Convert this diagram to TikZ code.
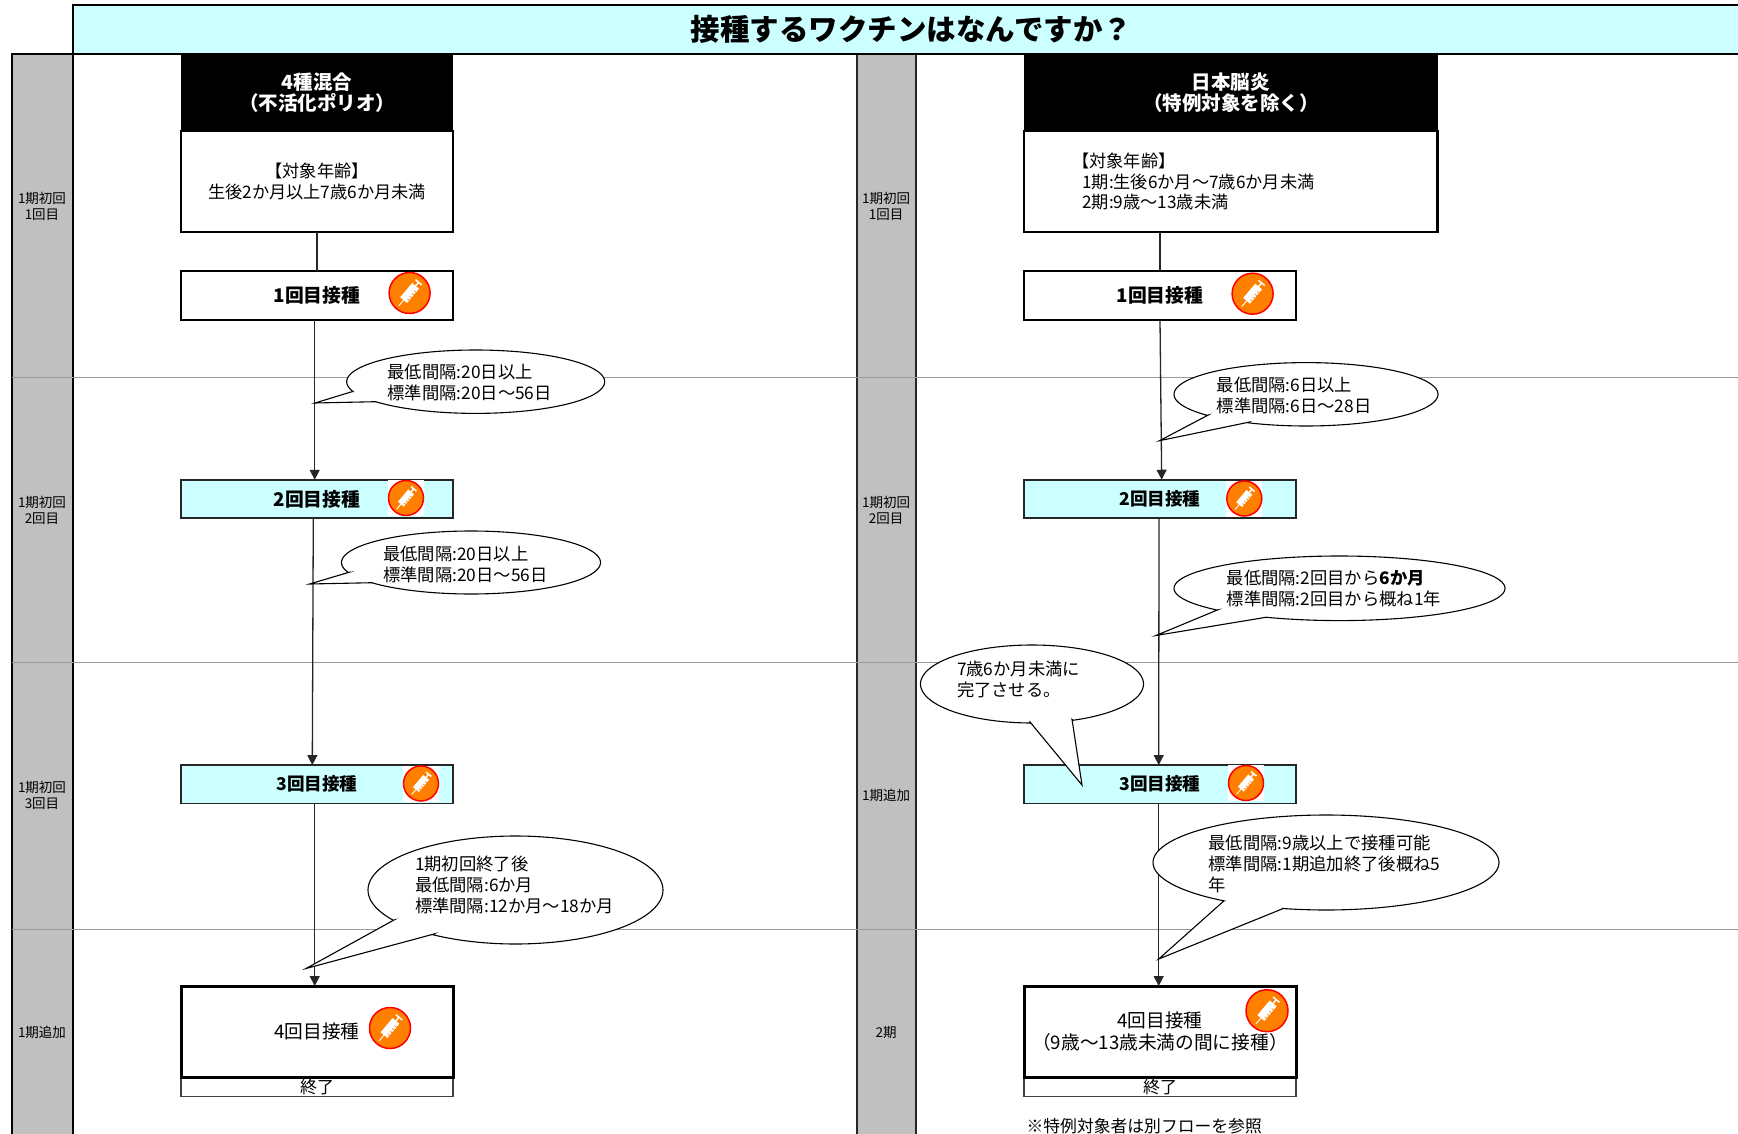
\documentclass[tikz,border=0pt]{standalone}
\usepackage{fontspec}
\setmainfont{Noto Sans CJK JP}
\usetikzlibrary{arrows.meta,calc}
\definecolor{cyanb}{HTML}{CCFFFF}
\definecolor{lane}{HTML}{C0C0C0}
\definecolor{inj}{HTML}{FF8000}
\newcommand{\callout}[9]{%
  \pgfmathsetmacro\cta{atan2((#6-#2)/#4,(#5-#1)/#3)}%
  \pgfmathsetmacro\ctb{atan2((#8-#2)/#4,(#7-#1)/#3)+360}%
  \draw[cobub] (#7,#8) -- (#9) -- (#5,#6) -- plot[domain=\cta:\ctb,samples=140] ({#1+#3*cos(\x)},{#2+#4*sin(\x)}) -- cycle;}
\newcommand{\inject}[3]{%
  \fill[white] (#1-#3,#2-#3) rectangle (#1+#3,#2+#3);
  \begin{scope}[shift={(#1,#2)}]
    \draw[draw=red,fill=inj,line width=1.5pt] (0,0) ellipse [x radius=#3-0.5,y radius=#3-0.5];
    \begin{scope}[rotate=50,scale=#3/18]
      \fill[white] (-8,-3.8) rectangle (8,3.8);
      \draw[white,line width=1.5pt] (8,0) -- (12,0) (12,-3.5) -- (12,3.5);
      \draw[white,line width=0.9pt] (-8,0) -- (-14.5,0);
      \draw[inj,line width=0.7pt] (-5,3.8) -- (-5,1.8) (-2,3.8) -- (-2,1.8) (1,3.8) -- (1,1.8) (4,3.8) -- (4,1.8);
    \end{scope}
  \end{scope}}
\tikzset{
  every node/.style={inner sep=0pt,outer sep=0pt},
  std/.style={font=\fontsize{17.2}{20.5}\selectfont,align=center},
  sml/.style={font=\fontsize{13.5}{16}\selectfont,align=center},
  bld/.style={font=\fontsize{18.8}{22}\selectfont\bfseries,align=center},
  bldn/.style={font=\fontsize{17.6}{22}\selectfont\bfseries,align=center},
  colabel/.style={font=\fontsize{17.3}{21}\selectfont,align=left,anchor=west},
  hdr/.style={fill=black,text=white,font=\fontsize{19.5}{20.5}\selectfont\bfseries,align=center,minimum height=77},
  tgt/.style={draw=black,fill=white,line width=2.5pt,std,minimum height=101},
  thick box/.style={draw=black,fill=white,line width=2.5pt,minimum width=272,minimum height=49,bld},
  cy box/.style={draw=black!85,fill=cyanb,line width=1.6pt,minimum width=272,minimum height=38.5,bld},
  big box/.style={draw=black,fill=white,line width=3pt,minimum width=272,minimum height=91,font=\fontsize{18.7}{21.5}\selectfont,align=center},
  end box/.style={draw=black!75,fill=white,line width=1.4pt,minimum width=272,minimum height=19.5,font=\fontsize{17}{18}\selectfont},
  conn/.style={draw=black!85,line width=1.3pt},
  arr/.style={conn,-{Triangle[length=10pt,width=10pt]}},
  cobub/.style={draw=black,fill=white,line width=1.1pt,line join=miter},
}
\begin{document}
\begin{tikzpicture}[x=1pt,y=-1pt]
\useasboundingbox (0,0) rectangle (1738,1134);
\fill[white] (0,0) rectangle (1738,1134);
% lanes and title
\draw[fill=lane,draw=black,line width=2.6pt] (12,54) rectangle (73,1145);
\draw[fill=lane,draw=black!85,line width=1.8pt] (857,54) rectangle (916,1145);
\draw[gray!80,line width=1pt] (12,377.5) -- (1745,377.5) (12,662.5) -- (1745,662.5) (12,929.5) -- (1745,929.5);
\node[draw=black,fill=cyanb,line width=2.6pt,minimum width=1690,minimum height=49,anchor=north west] (title) at (73,5) {};
\node[font=\fontsize{29.5}{32}\selectfont\bfseries] (titletext) at (911.5,29) {接種するワクチンはなんですか？};
% lane labels
\node[sml] (la) at (42,206) {1期初回\\1回目};
\node[sml] (lb) at (42,510) {1期初回\\2回目};
\node[sml] (lc) at (42,795) {1期初回\\3回目};
\node[sml] (ld) at (42,1032) {1期追加};
\node[sml] (ra) at (886,206) {1期初回\\1回目};
\node[sml] (rb) at (886,510) {1期初回\\2回目};
\node[sml] (rc) at (886,795) {1期追加};
\node[sml] (rd) at (886,1032) {2期};
% left column
\node[hdr,minimum width=272] (hL) at (317,92.5) {4種混合\\（不活化ポリオ）};
\node[tgt,minimum width=272] (tL) at (317,181.5) {【対象年齢】\\生後2か月以上7歳6か月未満};
\node[thick box] (a1) at (317,295.5) {\raisebox{1pt}{1回目接種}};
\node[cy box] (a2) at (317,499) {2回目接種};
\node[cy box,bldn] (a3) at (317,784.3) {\raisebox{1pt}{3回目接種}};
\node[end box] (aend) at (317,1087) {終了};
\node[big box] (a4) at (317,1031.5) {4回目接種};
\draw[conn] (tL.south) -- (a1.north);
\draw[arr] ([xshift=-2.3pt]a1.south) -- ([xshift=-2.3pt]a2.north);
\draw[arr] ([xshift=-3.7pt]a2.south) -- ([xshift=-4.7pt]a3.north);
\draw[arr] ([xshift=-2.3pt]a3.south) -- ([xshift=-2.3pt]a4.north);
\inject{409.6}{293}{21}
\inject{406}{498}{18}
\inject{421}{783.5}{18}
\inject{390}{1028}{21}
% right column
\node[hdr,minimum width=413.5] (hR) at (1230.75,92.5) {日本脳炎\\（特例対象を除く）};
\node[tgt,minimum width=413.5,text width=297,align=left] (tR) at (1230.75,181.5) {\hspace*{-10pt}【対象年齢】\\1期:生後6か月～7歳6か月未満\\2期:9歳～13歳未満};
\node[thick box] (b1) at (1160,295.5) {\raisebox{1pt}{1回目接種}};
\node[cy box,bldn] (b2) at (1160,499) {2回目接種};
\node[cy box,bldn] (b3) at (1160,784.3) {\raisebox{1pt}{3回目接種}};
\node[end box] (bend) at (1160,1087) {終了};
\node[big box] (b4) at (1160,1031.5) {4回目接種\\（9歳～13歳未満の間に接種）};
\draw[conn] (tR.south -| b1.north) -- (b1.north);
\draw[arr] (b1.south) -- ([xshift=1.7pt]b2.north);
\draw[arr] ([xshift=-1pt]b2.south) -- ([xshift=-1.3pt]b3.north);
\draw[arr] ([xshift=-1.3pt]b3.south) -- ([xshift=-1.3pt]b4.north);
\inject{1252.6}{293.7}{21}
\inject{1244.3}{498.5}{18}
\inject{1246}{783}{18}
\inject{1267}{1010.7}{21.5}
% callouts
\coordinate (tipa) at (315,403);
\callout{475.7}{381.7}{129}{31.7}{352}{391.7}{375.6}{401.7}{tipa}
\node[colabel] (ca) at (387.5,382.5) {最低間隔:20日以上\\標準間隔:20日～56日};
\coordinate (tipb) at (309.5,584);
\callout{471}{562.5}{129.5}{31.5}{349}{572.3}{372.7}{582.7}{tipb}
\node[colabel] (cb) at (383.3,564) {最低間隔:20日以上\\標準間隔:20日～56日};
\coordinate (tipc) at (306,968.5);
\callout{515.5}{890}{147.5}{54}{394}{920}{434}{934}{tipc}
\node[colabel] (cc) at (415,884.5) {1期初回終了後\\最低間隔:6か月\\標準間隔:12か月～18か月};
\coordinate (tipd) at (1159.5,440.7);
\callout{1306}{394.3}{132}{31.7}{1208.3}{415}{1248.3}{422.3}{tipd}
\node[colabel] (cd) at (1216.7,395) {最低間隔:6日以上\\標準間隔:6日～28日};
\coordinate (tipe) at (1156,635.5);
\callout{1339.5}{588.3}{165.5}{32.3}{1217.3}{610}{1266}{617.3}{tipe}
\node[colabel] (ce) at (1226.7,588.5) {最低間隔:2回目から{\bfseries 6か月}\\標準間隔:2回目から概ね1年};
\coordinate (tipf) at (1082,785);
\callout{1032}{684}{111.5}{39}{1030}{722}{1072}{719.3}{tipf}
\node[colabel] (cf) at (957,679) {7歳6か月未満に\\完了させる。};
\coordinate (tipg) at (1158.7,959);
\callout{1326}{862.5}{173}{47.5}{1223.8}{901}{1282}{909}{tipg}
\node[colabel] (cg) at (1208.6,864) {最低間隔:9歳以上で接種可能\\標準間隔:1期追加終了後概ね5\\年};
\node[font=\fontsize{16.8}{20}\selectfont,anchor=west] (note) at (1026.6,1126) {※特例対象者は別フローを参照};
\end{tikzpicture}
\end{document}
